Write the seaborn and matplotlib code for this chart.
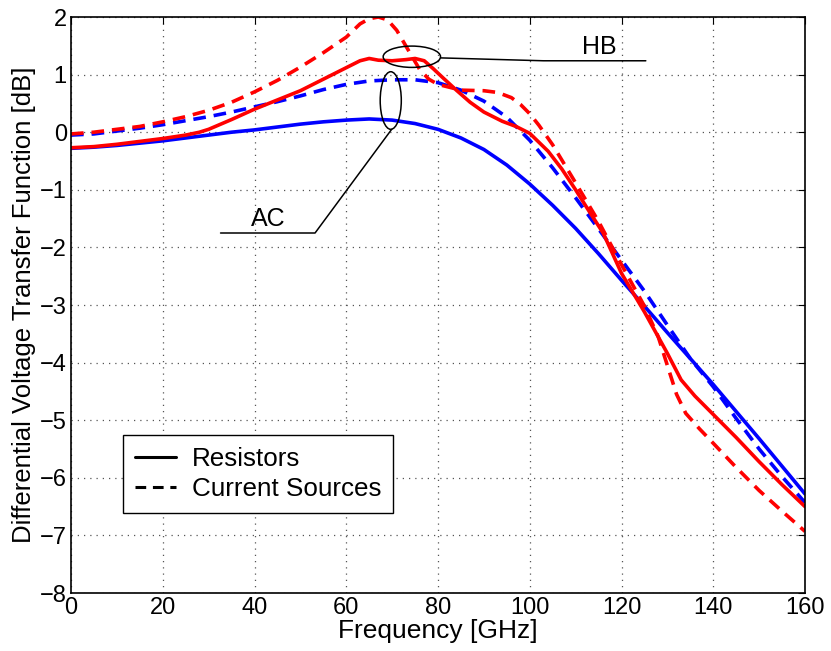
import matplotlib
matplotlib.use("Agg")
import matplotlib.pyplot as plt
import seaborn as sns
import pandas as pd
from matplotlib.patches import Ellipse
from matplotlib.lines import Line2D

# ---------------- data ----------------
freq_ac_r = [0, 5, 10, 15, 20, 25, 30, 35, 40, 45, 50, 55, 60, 65, 70, 75, 80, 85, 90, 95,
             100, 105, 110, 115, 120, 125, 130, 135, 140, 145, 150, 155, 160]
gain_ac_r = [-0.28, -0.26, -0.23, -0.19, -0.15, -0.10, -0.05, 0.00, 0.04, 0.09, 0.14, 0.18,
             0.21, 0.23, 0.21, 0.15, 0.05, -0.10, -0.30, -0.57, -0.90, -1.27, -1.67, -2.11,
             -2.57, -3.02, -3.48, -3.93, -4.38, -4.85, -5.32, -5.80, -6.28]

freq_ac_cs = [0, 5, 10, 15, 20, 25, 30, 35, 40, 45, 50, 55, 60, 65, 70, 75, 80, 85, 90, 95,
              100, 105, 110, 115, 120, 125, 130, 135, 140, 145, 150, 155, 160]
gain_ac_cs = [-0.05, -0.03, 0.02, 0.07, 0.13, 0.20, 0.27, 0.35, 0.44, 0.53, 0.63, 0.74,
              0.83, 0.89, 0.91, 0.91, 0.86, 0.73, 0.54, 0.26, -0.14, -0.62, -1.14, -1.68,
              -2.22, -2.76, -3.35, -3.93, -4.42, -4.97, -5.50, -5.98, -6.43]

freq_hb_r = [0, 5, 10, 15, 20, 25, 28, 30, 35, 40, 45, 50, 55, 60, 63, 65, 67, 70, 73, 75,
             77, 79, 81, 84, 87, 90, 94, 97, 100, 104, 107, 110, 113, 116, 120, 125, 130,
             133, 136, 140, 145, 150, 155, 160]
gain_hb_r = [-0.27, -0.25, -0.21, -0.16, -0.11, -0.05, 0.00, 0.05, 0.22, 0.40, 0.56, 0.72,
             0.92, 1.12, 1.24, 1.28, 1.25, 1.24, 1.26, 1.28, 1.24, 1.10, 0.95, 0.73, 0.52,
             0.35, 0.19, 0.10, -0.02, -0.33, -0.64, -1.00, -1.38, -1.75, -2.45, -3.12,
             -3.84, -4.30, -4.58, -4.90, -5.30, -5.72, -6.12, -6.50]

freq_hb_cs = [0, 5, 10, 15, 20, 25, 30, 35, 40, 45, 50, 55, 60, 63, 65, 67, 69, 71, 74, 76,
              78, 80, 85, 90, 93, 96, 98, 100, 102, 105, 110, 115, 120, 125, 128, 130, 132,
              134, 137, 140, 145, 150, 155, 160]
gain_hb_cs = [-0.03, 0.00, 0.05, 0.10, 0.18, 0.27, 0.38, 0.52, 0.70, 0.90, 1.13, 1.38,
              1.65, 1.88, 1.97, 2.00, 1.95, 1.77, 1.36, 1.09, 0.92, 0.83, 0.73, 0.72, 0.69,
              0.60, 0.48, 0.32, 0.12, -0.22, -0.88, -1.55, -2.30, -3.02, -3.55, -4.05,
              -4.55, -4.88, -5.15, -5.40, -5.82, -6.22, -6.58, -6.93]

methods = ["AC", "HB"]
loads = ["Resistors", "Current Sources"]

rows = []
for m, l, fx, gy in [("AC", "Resistors", freq_ac_r, gain_ac_r),
                     ("AC", "Current Sources", freq_ac_cs, gain_ac_cs),
                     ("HB", "Resistors", freq_hb_r, gain_hb_r),
                     ("HB", "Current Sources", freq_hb_cs, gain_hb_cs)]:
    for f, g in zip(fx, gy):
        rows.append({"freq": f, "gain": g, "method": m, "load": l, "curve": m + l})
df = pd.DataFrame(rows)

# ---------------- style ----------------
sns.set_theme(style="white")
plt.rcParams["font.family"] = ["Liberation Sans", "DejaVu Sans"]
plt.rcParams["xtick.direction"] = "in"
plt.rcParams["ytick.direction"] = "in"
plt.rcParams["text.color"] = "black"
plt.rcParams["axes.labelcolor"] = "black"
plt.rcParams["xtick.color"] = "black"
plt.rcParams["ytick.color"] = "black"
plt.rcParams["xtick.labelcolor"] = "black"
plt.rcParams["ytick.labelcolor"] = "black"

fig = plt.figure(figsize=(8.31, 6.51), dpi=100)
ax = fig.add_axes([71 / 831, 1 - 593 / 651, 734 / 831, 576 / 651])

palette = {"AC": "#0000FF", "HB": "#FF0000"}
dashes = {"Resistors": "", "Current Sources": (3.5, 2.2)}

sns.lineplot(data=df, x="freq", y="gain", hue="method", style="load", units="curve",
             estimator=None, sort=False, palette=palette, dashes=dashes,
             linewidth=2.6, legend=False, ax=ax)

ax.set_xlim(0, 160)
ax.set_ylim(-8, 2)
ax.set_xticks(range(0, 161, 20))
ax.set_yticks(range(-8, 3, 1))
ax.set_yticklabels([str(v).replace("-", "\u2212") for v in range(-8, 3, 1)])
ax.tick_params(axis="both", labelsize=17, length=5, width=0.8, color="black",
               labelcolor="black", top=True, right=True, pad=3)
ax.grid(True, color="#555555", linestyle=(0, (1, 4)), linewidth=0.9)
for s in ax.spines.values():
    s.set_color("black")
    s.set_linewidth(1.2)

ax.set_xlabel("Frequency [GHz]", fontsize=19, labelpad=0, color="black")
ax.set_ylabel("Differential Voltage Transfer Function [dB]", fontsize=18.5, labelpad=3,
              color="black")

# ---------------- annotations ----------------
ax.add_patch(Ellipse((74.3, 1.31), 12.5, 0.37, fill=False, edgecolor="black", lw=1.1, zorder=5))
ax.plot([80.6, 103, 125.3], [1.29, 1.24, 1.24], color="black", lw=1.1, zorder=5)
ax.text(115.2, 1.48, "HB", fontsize=18, ha="center", va="center", color="black")

ax.add_patch(Ellipse((69.7, 0.55), 4.6, 1.0, fill=False, edgecolor="black", lw=1.1, zorder=5))
ax.plot([69.9, 53.2, 32.6], [0.05, -1.75, -1.75], color="black", lw=1.1, zorder=5)
ax.text(43.0, -1.5, "AC", fontsize=18, ha="center", va="center", color="black")

# ---------------- legend ----------------
handles = [Line2D([], [], color="black", lw=2.2, linestyle="-"),
           Line2D([], [], color="black", lw=2.2, linestyle=(0, (3.5, 2.2)))]
leg = ax.legend(handles, loads, loc="lower left", bbox_to_anchor=(0.071, 0.139),
                borderaxespad=0, fontsize=18.7, frameon=True, fancybox=False,
                framealpha=1, edgecolor="black", handlelength=1.6, handletextpad=0.6,
                borderpad=0.45, labelspacing=0.25, labelcolor="black")
leg.get_frame().set_linewidth(1.0)

fig.savefig("out.png", dpi=100)
